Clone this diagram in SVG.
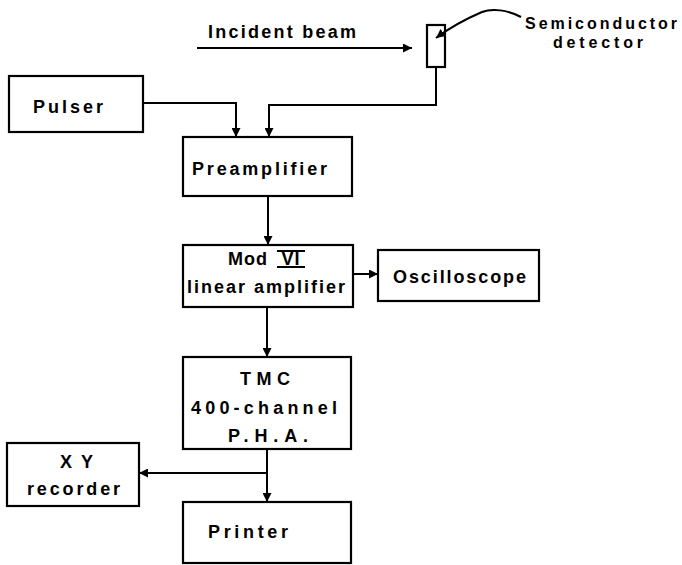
<svg xmlns="http://www.w3.org/2000/svg" width="682" height="565" viewBox="0 0 682 565">
<style>
.box{fill:none;stroke:#000;stroke-width:2.2}
.ln{fill:none;stroke:#000;stroke-width:2}
text{font-family:"Liberation Sans","DejaVu Sans",sans-serif;font-size:18px;fill:#000;font-weight:bold}
.sm{font-size:16px}
</style>
<defs>
<marker id="ah" viewBox="0 0 10 10" refX="10" refY="5" markerWidth="4.5" markerHeight="4.5" orient="auto" markerUnits="strokeWidth">
<path d="M0,0 L10,5 L0,10 z" fill="#000"/>
</marker>
</defs>
<rect width="682" height="565" fill="#fff"/>
<g id="beam">
<text x="208" y="38" textLength="148" lengthAdjust="spacing">Incident beam</text>
</g>
<g id="detector">
<rect class="box" x="427" y="25" width="18" height="42"/>
<text class="sm" x="525" y="29" textLength="152" lengthAdjust="spacing">Semiconductor</text>
<text class="sm" x="553" y="48" textLength="90" lengthAdjust="spacing">detector</text>
</g>
<g id="pulser">
<rect class="box" x="9" y="76" width="134" height="56"/>
<text x="33" y="113" textLength="70" lengthAdjust="spacing">Pulser</text>
</g>
<g id="preamplifier">
<rect class="box" x="183" y="137" width="169" height="59"/>
<text x="192" y="175" textLength="135" lengthAdjust="spacing">Preamplifier</text>
</g>
<g id="linear-amplifier">
<rect class="box" x="183" y="245" width="170" height="62"/>
<text x="228" y="265" textLength="39" lengthAdjust="spacing">Mod</text>
<text x="291" y="265" text-anchor="middle" letter-spacing="1">VI</text>
<line class="ln" x1="277" y1="251" x2="305" y2="251"/>
<line class="ln" x1="277" y1="267" x2="305" y2="267"/>
<text x="187" y="293" textLength="158" lengthAdjust="spacing">linear amplifier</text>
</g>
<g id="oscilloscope">
<rect class="box" x="378" y="250" width="161" height="51"/>
<text x="393" y="283" textLength="133" lengthAdjust="spacing">Oscilloscope</text>
</g>
<g id="pha">
<rect class="box" x="183" y="357" width="168" height="92"/>
<text x="240" y="385" textLength="50" lengthAdjust="spacing">TMC</text>
<text x="191" y="414" textLength="146" lengthAdjust="spacing">400-channel</text>
<text x="228" y="442" textLength="80" lengthAdjust="spacing">P.H.A.</text>
</g>
<g id="xy-recorder">
<rect class="box" x="7" y="443" width="132" height="63"/>
<text x="60" y="468" textLength="33" lengthAdjust="spacing">XY</text>
<text x="27" y="495" textLength="93" lengthAdjust="spacing">recorder</text>
</g>
<g id="printer">
<rect class="box" x="183" y="502" width="168" height="61"/>
<text x="208" y="538" textLength="80" lengthAdjust="spacing">Printer</text>
</g>
<g id="connectors">
<line class="ln" x1="197" y1="48" x2="412" y2="48" marker-end="url(#ah)"/>
<path class="ln" d="M521,17 C508,10 492,8 482,12 C468,18 452,26 436,38" marker-end="url(#ah)"/>
<path class="ln" d="M143,103 H236 V137" marker-end="url(#ah)"/>
<path class="ln" d="M436,67 V105 H269 V137" marker-end="url(#ah)"/>
<line class="ln" x1="268" y1="196" x2="268" y2="245" marker-end="url(#ah)"/>
<line class="ln" x1="353" y1="274" x2="378" y2="274" marker-end="url(#ah)"/>
<line class="ln" x1="267" y1="307" x2="267" y2="357" marker-end="url(#ah)"/>
<path class="ln" d="M267,473 H139" marker-end="url(#ah)"/>
<line class="ln" x1="267" y1="449" x2="267" y2="502" marker-end="url(#ah)"/>
</g>
</svg>
